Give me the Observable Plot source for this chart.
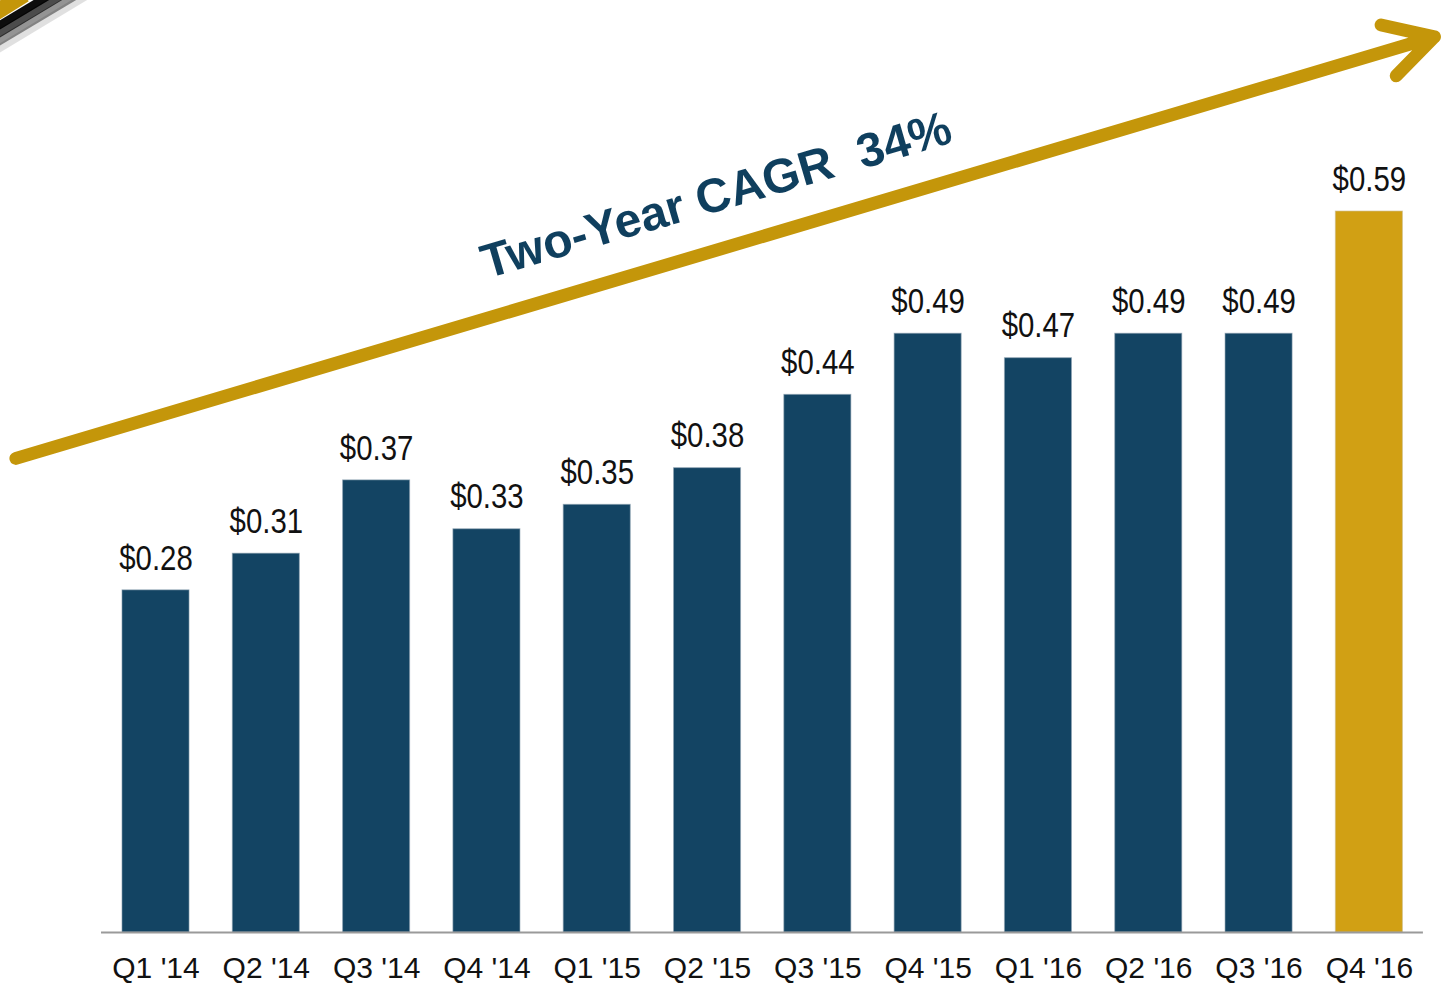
<!DOCTYPE html>
<html>
<head>
<meta charset="utf-8">
<script src="https://cdn.jsdelivr.net/npm/d3@7"></script>
<script src="https://cdn.jsdelivr.net/npm/@observablehq/plot@0.6"></script>
<style>
  html, body { margin: 0; padding: 0; background: #fff; }
  #chart svg { display: block; }
</style>
</head>
<body>
<div id="chart"></div>
<script>
// ---- data ----
const quarters = ["Q1 '14","Q2 '14","Q3 '14","Q4 '14","Q1 '15","Q2 '15","Q3 '15","Q4 '15","Q1 '16","Q2 '16","Q3 '16","Q4 '16"];
const values = [0.28, 0.31, 0.37, 0.33, 0.35, 0.38, 0.44, 0.49, 0.47, 0.49, 0.49, 0.59];
const highlight = [false,false,false,false,false,false,false,false,false,false,false,true];
const cagrLabel = "Two-Year CAGR\u00a0\u00a034%";
// annotation anchors in data units (x = quarter index, y = value)
const arrowStart = {x: -1.27, y: 0.388};
const arrowEnd = {x: 11.59, y: 0.733};
const cagrPos = {x: 5.08, y: 0.603};
const baselineSpan = {x1: -0.494, x2: 11.49};
// decorative corner stripes (data units)
const cornerGold = [{x1: -1.482, y1: 0.7512, x2: -1.192, y2: 0.7676}];
const cornerShadow = [
  {x1: -1.500, y1: 0.7381, x2: -0.956, y2: 0.7676, o: 0.95},
  {x1: -1.500, y1: 0.7316, x2: -0.838, y2: 0.7676, o: 0.7},
  {x1: -1.500, y1: 0.7250, x2: -0.711, y2: 0.7676, o: 0.42},
  {x1: -1.500, y1: 0.7193, x2: -0.612, y2: 0.7676, o: 0.12}
];

const rows = quarters.map((q, i) => ({i, q, v: values[i], hl: highlight[i]}));
const half = 0.304;
const blue = "#134463";
const gold = "#d1a014";
const arrowGold = "#c4960a";

const chart = Plot.plot({
  width: 1442,
  height: 985,
  marginLeft: 0, marginRight: 0, marginTop: 0, marginBottom: 53,
  style: {fontFamily: "'Liberation Sans', Arial, sans-serif", background: "#fff", overflow: "visible"},
  x: {type: "linear", domain: [-1.4098, 11.663], axis: null},
  y: {domain: [0, 0.7627], axis: null},
  marks: [
    // corner decoration
    Plot.link(cornerShadow, {x1: "x1", y1: "y1", x2: "x2", y2: "y2", stroke: "#000", strokeOpacity: "o", strokeWidth: 8}),
    Plot.link(cornerGold, {x1: "x1", y1: "y1", x2: "x2", y2: "y2", stroke: arrowGold, strokeWidth: 16}),
    // bars
    Plot.rect(rows, {
      x1: d => d.i - half, x2: d => d.i + half, y1: 0, y2: "v",
      fill: d => d.hl ? gold : blue,
      stroke: d => d.hl ? "#c9b98a" : "#8fa3b3", strokeWidth: 1, strokeOpacity: 0.6
    }),
    // baseline
    Plot.ruleY([0], {x1: baselineSpan.x1, x2: baselineSpan.x2, stroke: "#9a9a9a", strokeWidth: 2}),
    // value labels
    Plot.text(rows, {
      x: "i", y: "v", text: d => "$" + d.v.toFixed(2), dy: -32,
      fontSize: 35, fill: "#111", className: "vlabel",
      fontFamily: "'Liberation Sans', Arial, sans-serif"
    }),
    // category axis labels
    Plot.axisX(rows.map(d => d.i), {
      tickFormat: i => quarters[i], tickSize: 0, tickPadding: 24,
      fontSize: 30, fill: "#111"
    }),
    // growth arrow
    Plot.arrow([0], {
      x1: () => arrowStart.x, y1: () => arrowStart.y,
      x2: () => arrowEnd.x, y2: () => arrowEnd.y,
      stroke: arrowGold, strokeWidth: 13, headLength: 6.3, headAngle: 58,
      strokeLinecap: "round", strokeLinejoin: "round"
    }),
    // CAGR text
    Plot.text([cagrPos], {
      x: "x", y: "y", text: () => cagrLabel, rotate: -16.3,
      fontSize: 48, fontWeight: "bold", fill: "#0f3f5e",
      fontFamily: "'Liberation Sans', Arial, sans-serif"
    })
  ]
});
// condense the value labels horizontally (narrow typeface look)
d3.select(chart).selectAll("g.vlabel text").each(function () {
  const t = this.getAttribute("transform") || "";
  this.setAttribute("transform", t + " scale(0.84,1)");
});
document.getElementById("chart").appendChild(chart);
</script>
</body>
</html>
